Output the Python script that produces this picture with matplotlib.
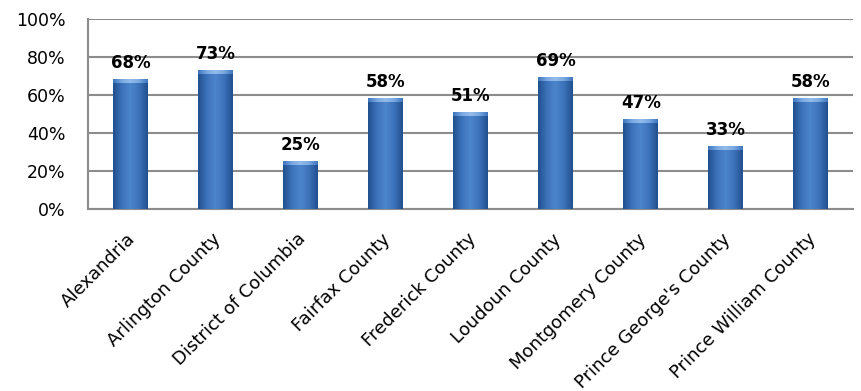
import numpy as np
import matplotlib.pyplot as plt
import matplotlib.transforms as mtransforms
from matplotlib.colors import LinearSegmentedColormap

areas = ['Alexandria', 'Arlington County', 'District of Columbia', 'Fairfax County',
         'Frederick County', 'Loudoun County', 'Montgomery County',
         "Prince George's County", 'Prince William County']
share = [68, 73, 25, 58, 51, 69, 47, 33, 58]
yticks = [0, 20, 40, 60, 80, 100]

plt.rcParams['font.family'] = ['DejaVu Sans']

fig = plt.figure(figsize=(8.62, 3.91), dpi=100)
ax = fig.add_axes([0.102, 0.465, 0.888, 0.486])

x = np.arange(len(areas))
width = 0.41
bars = ax.bar(x, share, width=width, color='#3F74BB', zorder=2)

# shaded fill: darker at the sides, lighter in the middle, light bevel at the top
body = LinearSegmentedColormap.from_list('body', ['#22508F', '#3C72BA', '#4D85CC', '#3C72BA', '#22508F'])
cap = LinearSegmentedColormap.from_list('cap', ['#3F76BE', '#7AA8E0', '#94BCEC', '#7AA8E0', '#3F76BE'])
grad = np.linspace(0, 1, 64).reshape(1, -1)
for b in bars:
    x0, w, h = b.get_x(), b.get_width(), b.get_height()
    ax.imshow(grad, extent=(x0, x0 + w, 0, h), cmap=body, aspect='auto', zorder=3)
    ax.imshow(grad, extent=(x0, x0 + w, h - 1.8, h), cmap=cap, aspect='auto', zorder=4)
    ax.text(x0 + w / 2, h + 4, f'{h:.0f}%', ha='center', va='bottom',
            fontsize=12, fontweight='bold', zorder=5)

ax.set_xlim(-0.5, len(areas) - 0.5)
ax.set_ylim(0, 100)
ax.set_yticks(yticks)
ax.set_yticklabels([f'{t}%' for t in yticks], fontsize=12.5)
ax.yaxis.grid(True, color='#8C8C8C', linewidth=1.5, zorder=0)
ax.set_axisbelow(True)
ax.tick_params(axis='both', length=0)
ax.tick_params(axis='y', pad=16)

ax.set_xticks(x)
ax.set_xticklabels(areas, rotation=45, ha='right', va='top', rotation_mode='anchor', fontsize=13)
ax.tick_params(axis='x', pad=15)
shift = mtransforms.ScaledTranslation(-4 / 100, 0, fig.dpi_scale_trans)
for lbl in ax.get_xticklabels():
    lbl.set_transform(lbl.get_transform() + shift)

for side in ['top', 'right']:
    ax.spines[side].set_visible(False)
for side in ['left', 'bottom']:
    ax.spines[side].set_color('#8C8C8C')
    ax.spines[side].set_linewidth(1.5)

fig.savefig('out.png', dpi=100)
